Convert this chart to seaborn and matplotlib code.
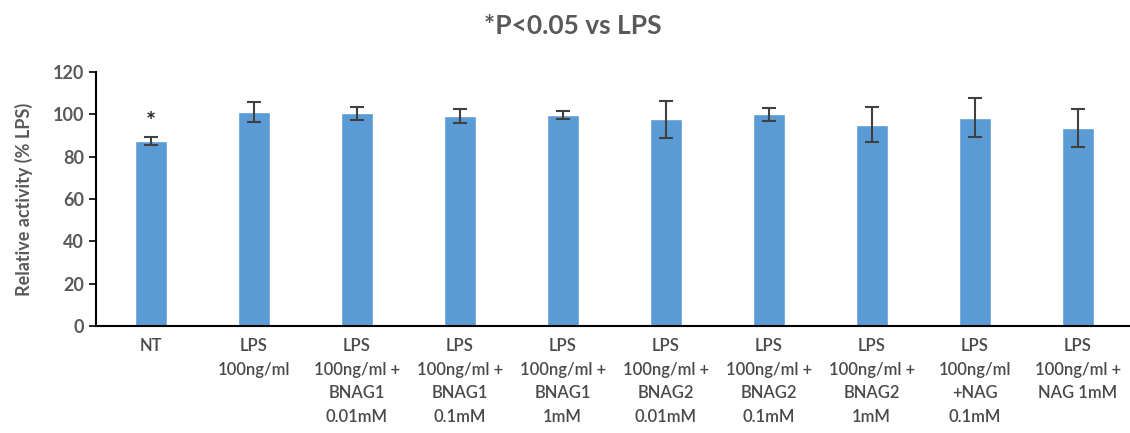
import matplotlib
matplotlib.use('Agg')
import matplotlib.pyplot as plt
import seaborn as sns
import pandas as pd

# 数据
groups = ['NT', 'LPS\n100ng/ml', 'LPS\n100ng/ml +\nBNAG1\n0.01mM',
          'LPS\n100ng/ml +\nBNAG1\n0.1mM', 'LPS\n100ng/ml +\nBNAG1\n1mM',
          'LPS\n100ng/ml +\nBNAG2\n0.01mM', 'LPS\n100ng/ml +\nBNAG2\n0.1mM',
          'LPS\n100ng/ml +\nBNAG2\n1mM', 'LPS\n100ng/ml\n+NAG\n0.1mM',
          'LPS\n100ng/ml +\nNAG 1mM']
activity = [87.5, 101.0, 100.4, 99.0, 99.6, 97.6, 100.0, 95.0, 98.4, 93.4]
sem = [1.9, 4.6, 3.2, 3.3, 1.9, 8.6, 3.1, 8.2, 9.3, 9.1]
sig = ['*', '', '', '', '', '', '', '', '', '']

df = pd.DataFrame({'group': groups, 'activity': activity})

sns.set_style('white')
plt.rcParams['font.family'] = ['Lato', 'DejaVu Sans']

grey = '#595959'
fig = plt.figure(figsize=(11.3, 4.33), dpi=100)
ax = fig.add_axes([0.085, 0.247, 0.917, 0.587])

sns.barplot(data=df, x='group', y='activity', color='#5B9BD5', saturation=1,
            width=0.31, ax=ax)
ax.errorbar(range(len(groups)), activity, yerr=sem, fmt='none',
            ecolor='#404040', elinewidth=1.5, capsize=5, capthick=1.5)

# 显著性标记
for i, s in enumerate(sig):
    if s:
        ax.text(i, activity[i] + sem[i] + 1.5, s, ha='center', va='bottom',
                fontsize=17, fontweight='bold', color='#262626')

ax.set_ylim(0, 120)
ax.set_yticks(range(0, 121, 20))
ax.set_xlim(-0.53, len(groups) - 0.47)
ax.set_xlabel('')
ax.set_ylabel('Relative activity (% LPS)', fontsize=13, fontweight='bold',
              color=grey, labelpad=14)
fig.text(0.507, 0.94, '*P<0.05 vs LPS', fontsize=19, fontweight='bold',
         color=grey, ha='center', va='center')

for side in ['top', 'right']:
    ax.spines[side].set_visible(False)
for side in ['left', 'bottom']:
    ax.spines[side].set_color('#000000')
    ax.spines[side].set_linewidth(1.5)

ax.tick_params(axis='y', left=True, length=5, width=1.2, colors='#000000',
               labelcolor=grey, labelsize=13)
ax.tick_params(axis='x', bottom=False, labelcolor='#4a4a4a', labelsize=12, pad=5)
for lab in ax.get_yticklabels():
    lab.set_fontweight('bold')
for lab in ax.get_xticklabels():
    lab.set_linespacing(1.6)
    lab.set_fontweight('semibold')
    lab.set_verticalalignment('top')

fig.savefig('out.png', dpi=100)
